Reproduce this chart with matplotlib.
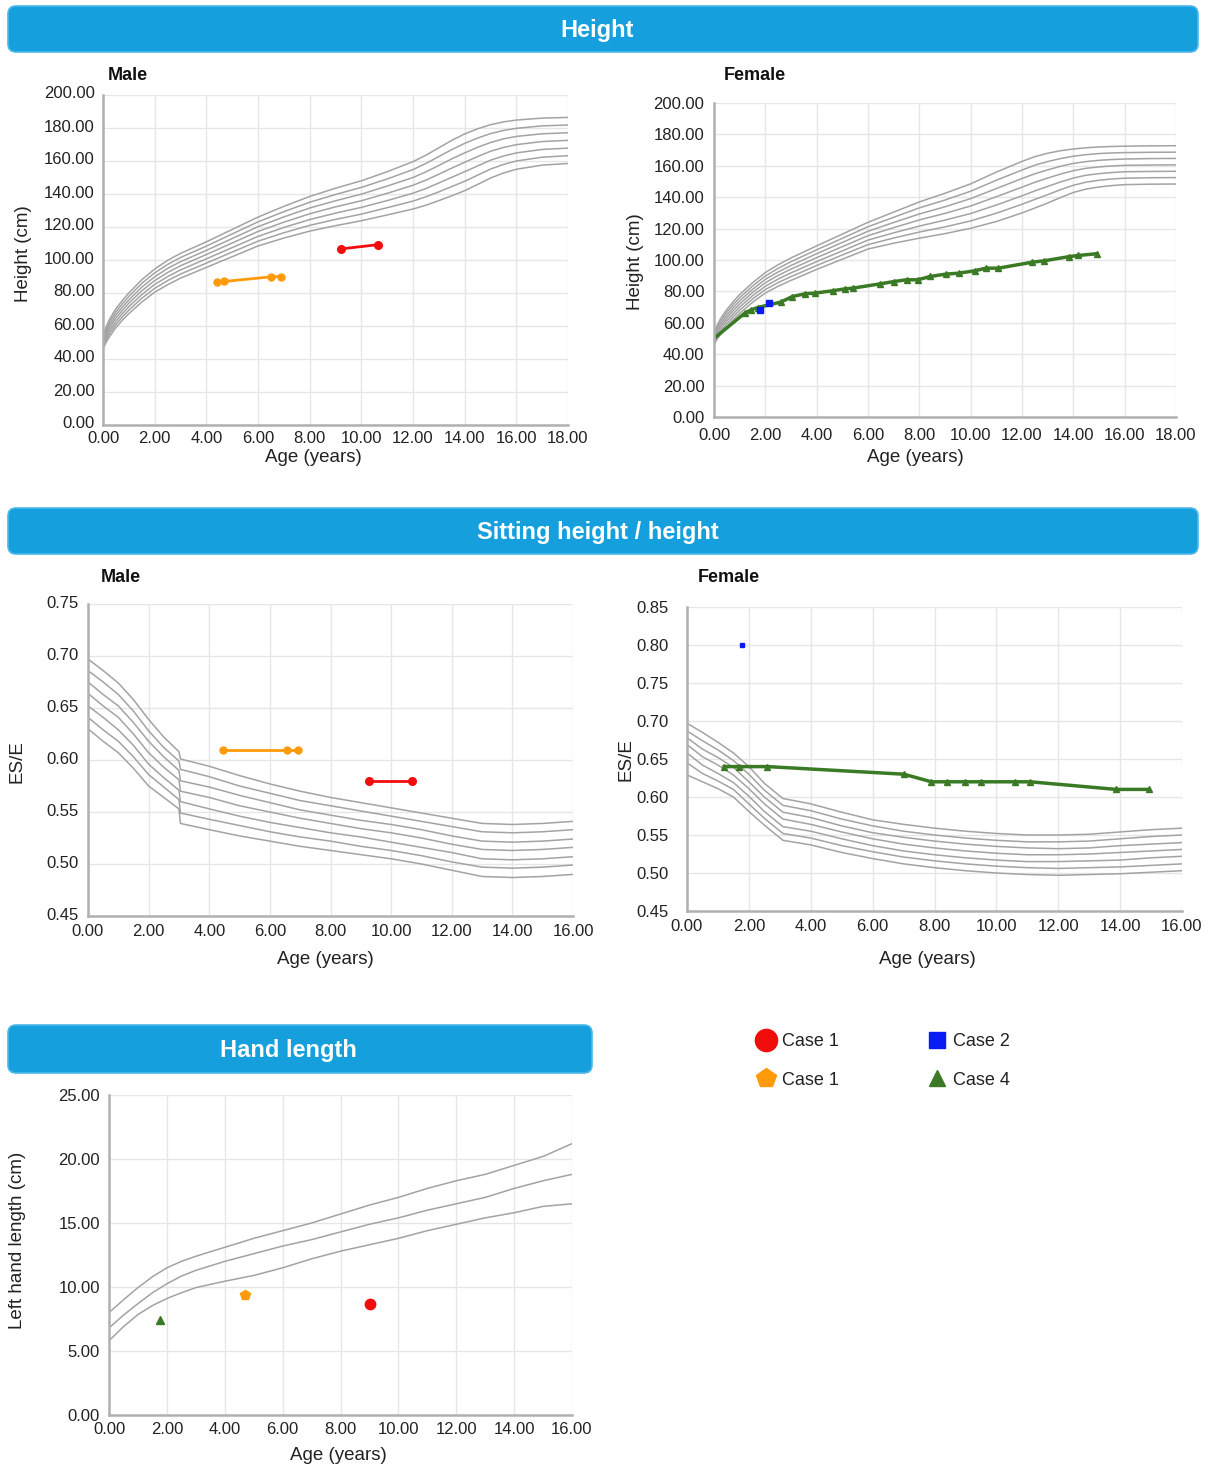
import matplotlib
matplotlib.use('Agg')
import matplotlib.pyplot as plt
from matplotlib.patches import FancyBboxPatch
from matplotlib.lines import Line2D
from matplotlib.ticker import FormatStrFormatter
from matplotlib.transforms import ScaledTranslation
import numpy as np

W, H = 1210, 1466
plt.rcParams['font.family'] = ['Liberation Sans', 'DejaVu Sans']

# ---------------- DATA ----------------
# Male height reference curves (cm)
mh_ages = [0, 0.1, 0.25, 0.5, 0.75, 1, 1.5, 2, 2.5, 3, 4, 5, 6, 7, 8, 9, 10, 11, 12, 12.5,
           13, 13.5, 14, 14.5, 15, 15.5, 16, 17, 18]
mh_ref = [
    [46, 49.5, 53.5, 59, 63.5, 67.5, 74.5, 80.5, 85, 89, 95.5, 102, 108.5, 113.3, 117.5, 120.8, 123.8, 127.3, 130.9, 133.2, 136, 138.9, 142, 145.8, 149.7, 152.7, 155, 157.5, 158.5],
    [47.2, 51, 55.3, 60.9, 65.5, 69.6, 76.8, 82.8, 87.5, 91.5, 98.1, 104.8, 111.4, 116.5, 121, 124.6, 127.8, 131.7, 135.7, 138.3, 141.3, 144.5, 147.7, 151.4, 155.1, 157.9, 160, 162.3, 163.2],
    [48.3, 52.5, 57, 62.8, 67.5, 71.7, 79, 85.2, 89.9, 94, 100.7, 107.5, 114.3, 119.7, 124.5, 128.4, 131.9, 136, 140.5, 143.3, 146.7, 150.1, 153.5, 157.0, 160.5, 163.0, 164.9, 167, 167.8],
    [49.5, 54, 58.8, 64.8, 69.5, 73.8, 81.3, 87.5, 92.4, 96.5, 103.3, 110.3, 117.3, 122.9, 128, 132.2, 135.9, 140.4, 145.3, 148.4, 152, 155.7, 159.2, 162.7, 165.9, 168.2, 169.9, 171.8, 172.5],
    [50.7, 55.5, 60.5, 66.7, 71.5, 75.8, 83.5, 89.8, 94.9, 99, 105.8, 113, 120.2, 126.1, 131.5, 135.9, 139.9, 144.8, 150, 153.4, 157.3, 161.3, 164.9, 168.3, 171.2, 173.4, 174.9, 176.5, 177.1],
    [51.8, 57, 62.3, 68.6, 73.5, 77.9, 85.8, 92.2, 97.3, 101.5, 108.4, 115.8, 123.1, 129.3, 135, 139.7, 144, 149.1, 154.8, 158.5, 162.7, 166.9, 170.7, 173.9, 176.6, 178.5, 179.8, 181.3, 181.8],
    [53, 58.5, 64, 70.5, 75.5, 80, 88, 94.5, 99.8, 104, 111, 118.5, 126, 132.5, 138.5, 143.5, 148, 153.5, 159.6, 163.5, 168, 172.5, 176.4, 179.5, 182, 183.7, 184.8, 186, 186.4],
]
# Female height reference curves (cm)
fh_ages = [0, 0.1, 0.25, 0.5, 0.75, 1, 1.5, 2, 2.5, 3, 4, 5, 6, 7, 8, 9, 10, 11, 12, 12.5,
           13, 13.5, 14, 14.5, 15, 15.5, 16, 17, 18]
fh_ref = [
    [46, 49, 52.5, 57.5, 62, 66, 73, 79, 83.3, 87, 94, 100.5, 107, 110.7, 113.9, 116.8, 120.2, 124.5, 130, 133.1, 136.3, 139.8, 143, 145.2, 146.5, 147.4, 148, 148.3, 148.4],
    [47.2, 50.4, 54.2, 59.3, 63.9, 68, 75.1, 81.2, 85.6, 89.4, 96.5, 103.2, 109.8, 114, 117.8, 121.1, 124.9, 129.8, 135.5, 138.6, 141.6, 144.8, 147.6, 149.6, 150.8, 151.6, 152.1, 152.4, 152.5],
    [48.3, 51.8, 55.8, 61.2, 65.8, 70, 77.2, 83.3, 87.9, 91.8, 99, 105.8, 112.7, 117.3, 121.6, 125.4, 129.6, 135, 140.9, 144, 146.9, 149.7, 152.2, 154, 155, 155.7, 156.2, 156.4, 156.5],
    [49.5, 53.3, 57.5, 63, 67.8, 72, 79.3, 85.5, 90.2, 94.2, 101.5, 108.5, 115.5, 120.6, 125.5, 129.7, 134.4, 140.3, 146.4, 149.5, 152.2, 154.7, 156.9, 158.4, 159.3, 159.9, 160.3, 160.5, 160.6],
    [50.7, 54.7, 59.2, 64.8, 69.7, 74, 81.3, 87.7, 92.4, 96.5, 104, 111.2, 118.3, 123.9, 129.3, 133.9, 139.1, 145.5, 151.9, 154.9, 157.4, 159.7, 161.5, 162.7, 163.5, 164, 164.3, 164.6, 164.7],
    [51.8, 56.1, 60.8, 66.7, 71.6, 76, 83.4, 89.8, 94.7, 98.9, 106.5, 113.8, 121.2, 127.2, 133.2, 138.2, 143.8, 150.8, 157.3, 160.4, 162.7, 164.6, 166.1, 167.1, 167.8, 168.2, 168.4, 168.6, 168.7],
    [53, 57.5, 62.5, 68.5, 73.5, 78, 85.5, 92, 97, 101.3, 109, 116.5, 124, 130.5, 137, 142.5, 148.5, 156, 162.8, 165.8, 168, 169.6, 170.7, 171.5, 172, 172.3, 172.5, 172.7, 172.8],
]
# Male sitting height / height reference curves
ms_ages = [0, 0.5, 1, 1.5, 2, 2.5, 3.0, 3.05, 4, 5, 6, 7, 8, 9, 10, 11, 12, 13, 14, 15, 16]
ms_ref = [
    [0.630, 0.618, 0.607, 0.592, 0.575, 0.564, 0.553, 0.539, 0.533, 0.527, 0.522, 0.517, 0.513, 0.509, 0.505, 0.500, 0.494, 0.488, 0.487, 0.488, 0.490],
    [0.641, 0.629, 0.618, 0.603, 0.586, 0.574, 0.562, 0.549, 0.543, 0.537, 0.531, 0.526, 0.522, 0.517, 0.513, 0.508, 0.502, 0.497, 0.496, 0.497, 0.499],
    [0.652, 0.641, 0.629, 0.614, 0.596, 0.583, 0.571, 0.560, 0.553, 0.546, 0.540, 0.535, 0.530, 0.526, 0.521, 0.516, 0.511, 0.505, 0.504, 0.505, 0.507],
    [0.664, 0.652, 0.641, 0.625, 0.607, 0.593, 0.581, 0.570, 0.564, 0.556, 0.550, 0.544, 0.539, 0.534, 0.530, 0.525, 0.519, 0.514, 0.513, 0.514, 0.516],
    [0.675, 0.663, 0.652, 0.636, 0.618, 0.603, 0.590, 0.580, 0.574, 0.566, 0.559, 0.552, 0.547, 0.542, 0.538, 0.533, 0.527, 0.522, 0.521, 0.522, 0.524],
    [0.686, 0.675, 0.663, 0.647, 0.628, 0.612, 0.599, 0.591, 0.584, 0.575, 0.568, 0.561, 0.556, 0.551, 0.546, 0.541, 0.536, 0.531, 0.530, 0.531, 0.533],
    [0.697, 0.686, 0.674, 0.658, 0.639, 0.622, 0.608, 0.601, 0.594, 0.585, 0.577, 0.570, 0.564, 0.559, 0.554, 0.549, 0.544, 0.539, 0.538, 0.539, 0.541],
]
# Female sitting height / height reference curves
fs_ages = [0, 0.5, 1, 1.5, 2, 2.5, 3.1, 4, 5, 6, 7, 8, 9, 10, 11, 12, 13, 14, 15, 16]
fs_ref = [
    [0.629, 0.620, 0.611, 0.600, 0.581, 0.563, 0.543, 0.537, 0.527, 0.519, 0.512, 0.507, 0.503, 0.500, 0.498, 0.497, 0.498, 0.499, 0.501, 0.503],
    [0.645, 0.631, 0.621, 0.610, 0.591, 0.572, 0.552, 0.546, 0.536, 0.528, 0.521, 0.516, 0.512, 0.509, 0.507, 0.506, 0.507, 0.508, 0.510, 0.512],
    [0.658, 0.642, 0.631, 0.619, 0.601, 0.581, 0.561, 0.555, 0.545, 0.536, 0.529, 0.524, 0.520, 0.517, 0.515, 0.515, 0.516, 0.517, 0.520, 0.522],
    [0.669, 0.653, 0.642, 0.629, 0.611, 0.591, 0.571, 0.564, 0.554, 0.545, 0.538, 0.533, 0.529, 0.526, 0.524, 0.524, 0.525, 0.527, 0.529, 0.531],
    [0.678, 0.663, 0.652, 0.639, 0.620, 0.600, 0.580, 0.573, 0.562, 0.553, 0.547, 0.542, 0.538, 0.535, 0.533, 0.532, 0.533, 0.536, 0.538, 0.540],
    [0.687, 0.674, 0.662, 0.648, 0.630, 0.609, 0.589, 0.582, 0.571, 0.562, 0.555, 0.550, 0.546, 0.543, 0.541, 0.541, 0.542, 0.545, 0.548, 0.550],
    [0.697, 0.685, 0.672, 0.658, 0.640, 0.618, 0.598, 0.591, 0.580, 0.570, 0.564, 0.559, 0.555, 0.552, 0.550, 0.550, 0.551, 0.554, 0.557, 0.559],
]
# Hand length reference curves (cm)
hl_ages = [0, 0.5, 1, 1.5, 2, 2.5, 3, 4, 5, 6, 7, 8, 9, 10, 11, 12, 13, 14, 15, 16]
hl_ref = [
    [5.8, 6.9, 7.85, 8.55, 9.1, 9.55, 9.95, 10.45, 10.9, 11.5, 12.2, 12.8, 13.3, 13.8, 14.4, 14.9, 15.4, 15.8, 16.3, 16.5],
    [6.8, 7.8, 8.7, 9.55, 10.25, 10.85, 11.3, 12.0, 12.6, 13.2, 13.7, 14.3, 14.9, 15.4, 16.0, 16.5, 17.0, 17.7, 18.3, 18.8],
    [8.0, 9.0, 9.95, 10.8, 11.5, 12.0, 12.4, 13.1, 13.8, 14.4, 15.0, 15.7, 16.4, 17.0, 17.7, 18.3, 18.8, 19.5, 20.2, 21.2],
]

# Cases
case1_red_h_age = [9.2, 10.65]
case1_red_h_val = [106.7, 109.3]
case1_org_h_age = [4.4, 4.7, 6.5, 6.9]
case1_org_h_val = [86.8, 87.0, 89.8, 90.0]
case2_h_age = [1.81, 2.15]
case2_h_val = [68.3, 72.9]
case4_h_age = [0.0, 1.2, 1.45, 1.7, 2.6, 3.05, 3.55, 3.93, 4.62, 5.1, 5.42, 6.47, 7.02, 7.5, 7.94,
               8.42, 9.03, 9.53, 10.15, 10.6, 11.08, 12.4, 12.87, 13.85, 14.2, 14.92]
case4_h_val = [50, 66.2, 68.3, 69.7, 73.2, 76.7, 78.5, 78.9, 80.4, 81.6, 82.1, 84.8, 86.3, 87.4, 87.4,
               89.5, 91.0, 91.6, 93.1, 94.8, 94.8, 98.6, 99.5, 102.2, 102.9, 104.0]

case1_red_s_age = [9.26, 10.68]
case1_red_s_val = [0.58, 0.58]
case1_org_s_age = [4.46, 6.55, 6.93]
case1_org_s_val = [0.61, 0.61, 0.61]
case2_s_age = [1.78]
case2_s_val = [0.80]
case4_s_age = [1.2, 1.68, 2.6, 7.01, 7.9, 8.4, 9.0, 9.5, 10.6, 11.1, 13.87, 14.92]
case4_s_val = [0.64, 0.64, 0.64, 0.63, 0.62, 0.62, 0.62, 0.62, 0.62, 0.62, 0.61, 0.61]

hand_red = (9.02, 8.7)
hand_org = (4.71, 9.4)
hand_grn = (1.75, 7.4)

legend_labels = ['Case 1', 'Case 1', 'Case 2', 'Case 4']

# ---------------- STYLE ----------------
BLUE_BANNER = '#159fdd'
REF = '#a3a3a3'
RED = '#f20d0d'
ORANGE = '#ff9a0a'
BLUEC = '#0a1cf5'
GREEN = '#3b7a24'

fig = plt.figure(figsize=(W / 100, H / 100), dpi=100)
fig.patch.set_facecolor('white')

# background overlay for banners (pixel coordinates)
bg = fig.add_axes([0, 0, 1, 1], zorder=-1)
bg.set_xlim(0, W)
bg.set_ylim(H, 0)
bg.axis('off')


def banner(x0, y0, x1, y1, text, tx):
    p = FancyBboxPatch((x0, y0), x1 - x0, y1 - y0,
                       boxstyle='round,pad=0,rounding_size=8',
                       fc=BLUE_BANNER, ec='#4cb8e8', lw=1.2)
    bg.add_patch(p)
    bg.text(tx, (y0 + y1) / 2 + 1, text, color='white', fontsize=17,
            fontweight='bold', ha='center', va='center')


banner(8, 6, 1198, 52, 'Height', 597)
banner(8, 508, 1198, 554, 'Sitting height / height', 598)
banner(8, 1025, 592, 1073, 'Hand length', 288)


def px_axes(l, t, r, b):
    return fig.add_axes([l / W, 1 - b / H, (r - l) / W, (b - t) / H])


def style(ax, xmax, ymin, ymax, ystep, xpad, ypad, yshift=0):
    ax.set_xlim(0, xmax)
    ax.set_ylim(ymin, ymax)
    ax.set_xticks(np.arange(0, xmax + 0.001, 2))
    ax.set_yticks(np.arange(ymin, ymax + ystep / 2, ystep))
    ax.xaxis.set_major_formatter(FormatStrFormatter('%.2f'))
    ax.yaxis.set_major_formatter(FormatStrFormatter('%.2f'))
    ax.grid(True, color='#e6e6e6', lw=1.0)
    ax.set_axisbelow(True)
    for s in ['top', 'right']:
        ax.spines[s].set_visible(False)
    for s in ['left', 'bottom']:
        ax.spines[s].set_color('#b0b0b0')
        ax.spines[s].set_linewidth(1.8)
    ax.tick_params(axis='x', length=0, labelsize=12, colors='#222222', pad=xpad)
    ax.tick_params(axis='y', length=0, labelsize=12, colors='#222222', pad=ypad)
    if yshift:
        off = ScaledTranslation(0, yshift / 100, fig.dpi_scale_trans)
        for lab in ax.get_yticklabels():
            lab.set_transform(lab.get_transform() + off)


def label_text(x, y, s, rot=0):
    fig.text(x / W, 1 - y / H, s, fontsize=13.5, color='#222222', ha='center',
             va='center', rotation=rot)


def title_text(x, y, s):
    fig.text(x / W, 1 - y / H, s, fontsize=13, fontweight='bold', color='#111111',
             ha='left', va='center')


# ---- Male height ----
ax1 = px_axes(103, 95, 568, 425)
style(ax1, 18, 0, 200, 20, 4.5, 6, yshift=2.5)
for c in mh_ref:
    ax1.plot(mh_ages, c, color=REF, lw=1.1)
ax1.plot(case1_org_h_age, case1_org_h_val, color=ORANGE, lw=2, marker='o', ms=5)
ax1.plot(case1_red_h_age, case1_red_h_val, color=RED, lw=2, marker='o', ms=5.5)
title_text(108, 75, 'Male')
label_text(313, 458, 'Age (years)')
label_text(24, 254, 'Height (cm)', 90)

# ---- Female height ----
ax2 = px_axes(714, 103, 1176, 417)
style(ax2, 18, 0, 200, 20, 8, 7)
for c in fh_ref:
    ax2.plot(fh_ages, c, color=REF, lw=1.1)
ax2.plot(case4_h_age, case4_h_val, color=GREEN, lw=2.5, marker='^', ms=4,
         markevery=list(range(1, len(case4_h_age))))
ax2.plot(case2_h_age, case2_h_val, color=BLUEC, marker='s', ms=4.5, ls='none')
title_text(724, 75, 'Female')
label_text(915, 458, 'Age (years)')
label_text(635, 262, 'Height (cm)', 90)

# ---- Male sitting ----
ax3 = px_axes(88, 604, 573, 916)
style(ax3, 16, 0.45, 0.75, 0.05, 6, 7, yshift=2)
for c in ms_ref:
    ax3.plot(ms_ages, c, color=REF, lw=1.1)
ax3.plot(case1_org_s_age, case1_org_s_val, color=ORANGE, lw=2, marker='o', ms=5)
ax3.plot(case1_red_s_age, case1_red_s_val, color=RED, lw=2, marker='o', ms=5.5)
title_text(101, 578, 'Male')
label_text(325, 959, 'Age (years)')
label_text(17, 762, 'ES/E', 90)

# ---- Female sitting ----
ax4 = px_axes(687, 607, 1182, 911)
style(ax4, 16, 0.45, 0.85, 0.05, 6, 13)
for c in fs_ref:
    ax4.plot(fs_ages, c, color=REF, lw=1.1)
ax4.plot(case4_s_age, case4_s_val, color=GREEN, lw=2.5, marker='^', ms=4)
ax4.plot(case2_s_age, case2_s_val, color=BLUEC, marker='s', ms=3, ls='none')
title_text(698, 578, 'Female')
label_text(927, 959, 'Age (years)')
label_text(626, 760, 'ES/E', 90)

# ---- Hand length ----
ax5 = px_axes(109, 1095, 572, 1415)
style(ax5, 16, 0, 25, 5, 5, 6.5)
for c in hl_ref:
    ax5.plot(hl_ages, c, color=REF, lw=1.1)
ax5.plot([hand_grn[0]], [hand_grn[1]], color=GREEN, marker='^', ms=6, ls='none')
ax5.plot([hand_org[0]], [hand_org[1]], color=ORANGE, marker='p', ms=7, ls='none')
ax5.plot([hand_red[0]], [hand_red[1]], color=RED, marker='o', ms=7.5, ls='none')
label_text(338, 1455, 'Age (years)')
label_text(18, 1240, 'Left hand length (cm)', 90)

# ---- Legend ----
handles = [
    Line2D([], [], color=RED, marker='o', ls='none', ms=16),
    Line2D([], [], color=ORANGE, marker='p', ls='none', ms=15),
    Line2D([], [], color=BLUEC, marker='s', ls='none', ms=11),
    Line2D([], [], color=GREEN, marker='^', ls='none', ms=12),
]
fig.legend(handles, legend_labels, ncol=2, loc='upper left',
           bbox_to_anchor=(757 / W, 1 - 1033 / H), frameon=False,
           fontsize=13, handlelength=1.0, handletextpad=0.38,
           columnspacing=4.95, labelspacing=1.2, borderpad=0, borderaxespad=0,
           labelcolor='#222222')

fig.savefig('out.png', dpi=100, facecolor='white')
